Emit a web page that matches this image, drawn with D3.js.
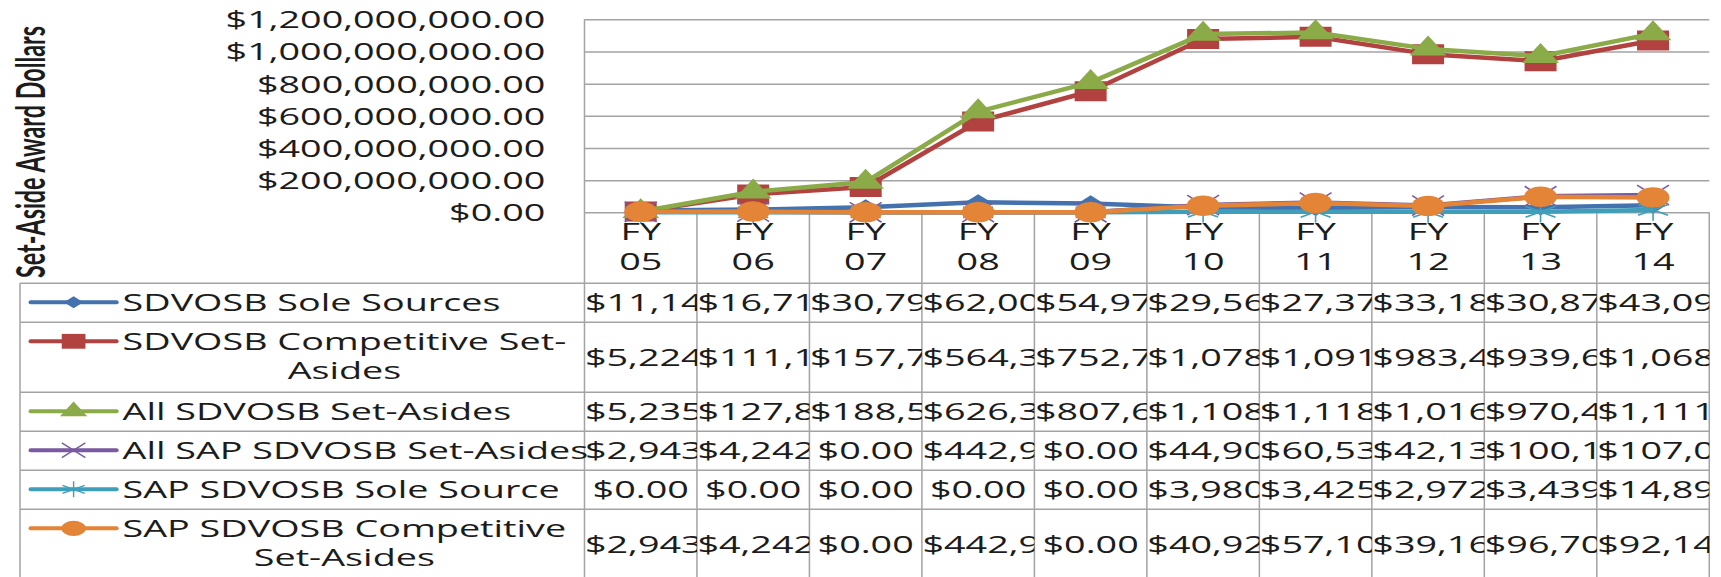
<!DOCTYPE html>
<html>
<head>
<meta charset="utf-8">
<script src="https://cdn.jsdelivr.net/npm/d3@7"></script>
<style>
  body { margin: 0; background: #fff; }
  svg { display: block; font-family: "Open Sans", Lato, sans-serif; }
</style>
</head>
<body>
<svg id="main-svg"></svg>
<script>
// fiscal years on the category axis
const years = ["FY 05", "FY 06", "FY 07", "FY 08", "FY 09", "FY 10", "FY 11", "FY 12", "FY 13", "FY 14"];

const seriesNames = [
  "SDVOSB Sole Sources",
  "SDVOSB Competitive Set-\nAsides",
  "All SDVOSB Set-Asides",
  "All SAP SDVOSB Set-Asides",
  "SAP SDVOSB Sole Source",
  "SAP SDVOSB Competitive\nSet-Asides"
];

// award dollars (only the leading digits are readable in the table)
const soleSources = [11140000, 16710000, 30790000, 62000000, 54970000, 29560000, 27370000, 33180000, 30870000, 43090000];
const competitive = [5224000, 111100000, 157700000, 564300000, 752700000, 1078000000, 1091000000, 983400000, 939600000, 1068000000];
const allSetAsides = [5235000, 127800000, 188500000, 626300000, 807600000, 1108000000, 1118000000, 1016000000, 970400000, 1111000000];
const allSap = [2943000, 4242000, 0, 442900, 0, 44900000, 60530000, 42130000, 100100000, 107000000];
const sapSole = [0, 0, 0, 0, 0, 3980000, 3425000, 2972000, 3439000, 14890000];
const sapCompetitive = [2943000, 4242000, 0, 442900, 0, 40920000, 57100000, 39160000, 96700000, 92140000];

const yTicks = [0, 200000000, 400000000, 600000000, 800000000, 1000000000, 1200000000];

const seriesValues = [soleSources, competitive, allSetAsides, allSap, sapSole, sapCompetitive];
const colors = ["#4372ae", "#b2423f", "#8aab47", "#7a5aa0", "#3f9fba", "#e38436"];
const markers = [
  {type: d3.symbolDiamond2, size: 170, fill: true},
  {type: d3.symbolSquare, size: 400, fill: true},
  {type: d3.symbolTriangle, size: 230, fill: true},
  {type: d3.symbolTimes, size: 260, fill: false},
  {type: d3.symbolAsterisk, size: 330, fill: false},
  {type: d3.symbolCircle, size: 330, fill: true}
];

// the original picture is stretched sideways, so everything is drawn in a
// narrower space and scaled horizontally
const sx = 1.6;
const width = 1721, height = 577;
const fontSize = 23.6;
const gridColor = "#a3a3a3";
const textColor = "#1c1c1c";

const plotLeft = 365.3, plotRight = 1068.3, plotTop = 19.3, plotBottom = 212.3;
const tableLeft = 12.5, tableTop = 283.3;
const legendTextLeft = 76.6;

let svg = d3.select('#main-svg').attr('width', width).attr('height', height);
let g = svg.append('g').attr('transform', `scale(${sx},1)`);

let x = d3.scaleBand().domain(years).range([plotLeft, plotRight]);
let y = d3.scaleLinear().domain([0, 1200000000]).range([plotBottom, plotTop]);
let fmt = d3.format("$,.2f");

// y axis with gridlines
let yAxis = g.append('g')
  .attr('transform', `translate(${plotLeft},0)`)
  .call(d3.axisLeft(y).tickValues(yTicks).tickFormat(fmt)
    .tickSize(-(plotRight - plotLeft)).tickPadding(24.5))
  .attr('font-size', fontSize)
  .attr('font-family', null);
yAxis.select('.domain').remove();
yAxis.selectAll('.tick line')
  .attr('stroke', gridColor)
  .attr('stroke-width', 1.5)
  .attr('vector-effect', 'non-scaling-stroke');
yAxis.selectAll('.tick text').attr('fill', textColor).attr('dy', '0.36em');

// axis title
g.append('text')
  .attr('transform', `translate(28,152) rotate(-90)`)
  .attr('text-anchor', 'middle')
  .attr('font-family', 'Lato, sans-serif')
  .attr('font-weight', 'bold')
  .attr('font-size', 24.5)
  .attr('textLength', 252)
  .attr('lengthAdjust', 'spacingAndGlyphs')
  .attr('fill', textColor)
  .text('Set-Aside Award Dollars');

// table rows
let rowHeights = seriesNames.map(n => 39 + 31 * (n.split('\n').length - 1));
let rowTops = [];
let acc = tableTop;
rowHeights.forEach(h => { rowTops.push(acc); acc += h; });
let tableBottom = acc;

// category labels in the header row
let catLabels = g.append('g').selectAll('text')
  .data(years)
  .enter()
  .append('text')
  .attr('text-anchor', 'middle')
  .attr('font-size', fontSize)
  .attr('fill', textColor);
catLabels.each(function (d) {
  let parts = d.split(' ');
  let t = d3.select(this);
  parts.forEach((p, i) => {
    t.append('tspan')
      .attr('x', x(d) + x.bandwidth() / 2)
      .attr('y', 232 + i * 30)
      .attr('dy', '0.36em')
      .text(p);
  });
});

// table grid
let grid = g.append('g')
  .attr('stroke', gridColor)
  .attr('stroke-width', 1.5)
  .attr('fill', 'none');
let colEdges = d3.range(years.length + 1).map(i => plotLeft + i * x.step());
grid.selectAll('.vline')
  .data(colEdges)
  .enter()
  .append('line')
  .attr('x1', d => d).attr('x2', d => d)
  .attr('y1', (d, i) => i === 0 ? plotTop : plotBottom)
  .attr('y2', tableBottom)
  .attr('vector-effect', 'non-scaling-stroke');
grid.selectAll('.hline')
  .data(rowTops.concat([tableBottom]))
  .enter()
  .append('line')
  .attr('x1', tableLeft).attr('x2', plotRight)
  .attr('y1', d => d).attr('y2', d => d)
  .attr('vector-effect', 'non-scaling-stroke');
grid.append('line')
  .attr('x1', tableLeft).attr('x2', tableLeft)
  .attr('y1', tableTop).attr('y2', tableBottom)
  .attr('vector-effect', 'non-scaling-stroke');

// series lines and markers
let line = d3.line()
  .x((d, i) => x(years[i]) + x.bandwidth() / 2)
  .y(d => y(d));

seriesValues.forEach((vals, s) => {
  let sg = g.append('g');
  sg.append('path')
    .datum(vals)
    .attr('d', line)
    .attr('fill', 'none')
    .attr('stroke', colors[s])
    .attr('stroke-width', 4.5)
    .attr('stroke-linejoin', 'round')
    .attr('vector-effect', 'non-scaling-stroke');
  let m = markers[s];
  sg.selectAll('path.mark')
    .data(vals)
    .enter()
    .append('path')
    .attr('class', 'mark')
    .attr('transform', (d, i) => `translate(${x(years[i]) + x.bandwidth() / 2},${y(d)})`)
    .attr('d', d3.symbol().type(m.type).size(m.size))
    .attr('fill', m.fill ? colors[s] : 'none')
    .attr('stroke', m.fill ? 'none' : colors[s])
    .attr('stroke-width', 1.6)
    .attr('vector-effect', 'non-scaling-stroke');
});

// legend column of the data table
seriesNames.forEach((name, s) => {
  let top = rowTops[s];
  let firstY = top + 19;
  let lg = g.append('g');
  lg.append('line')
    .attr('x1', 19.1).attr('x2', 72.9)
    .attr('y1', firstY).attr('y2', firstY)
    .attr('stroke', colors[s])
    .attr('stroke-width', 4)
    .attr('stroke-linecap', 'round')
    .attr('vector-effect', 'non-scaling-stroke');
  let m = markers[s];
  lg.append('path')
    .attr('transform', `translate(46,${firstY})`)
    .attr('d', d3.symbol().type(m.type).size(m.size * 0.55))
    .attr('fill', m.fill ? colors[s] : 'none')
    .attr('stroke', m.fill ? 'none' : colors[s])
    .attr('stroke-width', 1.4)
    .attr('vector-effect', 'non-scaling-stroke');
  // wrapped lines are centred in a box as wide as the longest line
  let lines = name.split('\n').map((p, i) => lg.append('text')
    .attr('font-size', fontSize)
    .attr('fill', textColor)
    .attr('y', firstY + i * 29.5)
    .attr('dy', '0.36em')
    .text(p));
  let widths = lines.map(t => t.node().getComputedTextLength());
  let boxW = d3.max(widths);
  lines.forEach((t, i) => t.attr('x', legendTextLeft + (boxW - widths[i]) / 2));
});

// clip each column so long values are cut at the cell border
let defs = svg.append('defs');
years.forEach((yr, c) => {
  defs.append('clipPath')
    .attr('id', `col-${c}`)
    .append('rect')
    .attr('x', colEdges[c])
    .attr('y', tableTop)
    .attr('width', x.step())
    .attr('height', tableBottom - tableTop);
});

seriesValues.forEach((vals, s) => {
  let cy = rowTops[s] + rowHeights[s] / 2;
  vals.forEach((v, c) => {
    let cell = g.append('text')
      .attr('clip-path', `url(#col-${c})`)
      .attr('font-size', fontSize)
      .attr('fill', textColor)
      .attr('y', cy)
      .attr('dy', '0.36em')
      .text(fmt(v));
    let w = cell.node().getComputedTextLength();
    if (w <= x.step() - 4) {
      cell.attr('x', colEdges[c] + x.step() / 2).attr('text-anchor', 'middle');
    } else {
      cell.attr('x', colEdges[c] + 0.3).attr('text-anchor', 'start');
    }
  });
});
</script>
</body>
</html>
